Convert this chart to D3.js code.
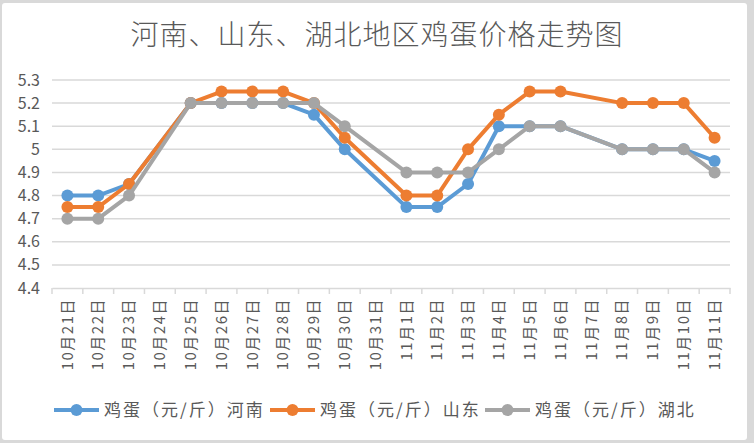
<!DOCTYPE html>
<html><head><meta charset="utf-8">
<script src="https://cdn.jsdelivr.net/npm/d3@7"></script>
<style>
html,body{margin:0;padding:0;background:#d9d9d9;}
svg{display:block;}
text{font-family:"Noto Sans CJK SC","Noto Sans",sans-serif;fill:#595959;}
</style></head>
<body>
<svg id="c" width="754" height="443"></svg>
<script>
const categories = ["10月21日","10月22日","10月23日","10月24日","10月25日","10月26日","10月27日","10月28日","10月29日","10月30日","10月31日","11月1日","11月2日","11月3日","11月4日","11月5日","11月6日","11月7日","11月8日","11月9日","11月10日","11月11日"];
const henan   = [4.8,4.8,4.85,null,5.2,5.2,5.2,5.2,5.15,5.0,null,4.75,4.75,4.85,5.1,5.1,5.1,null,5.0,5.0,5.0,4.95];
const shandong= [4.75,4.75,4.85,null,5.2,5.25,5.25,5.25,5.2,5.05,null,4.8,4.8,5.0,5.15,5.25,5.25,null,5.2,5.2,5.2,5.05];
const hubei   = [4.7,4.7,4.8,null,5.2,5.2,5.2,5.2,5.2,5.1,null,4.9,4.9,4.9,5.0,5.1,5.1,null,5.0,5.0,5.0,4.9];
const yTicks = [4.4,4.5,4.6,4.7,4.8,4.9,5.0,5.1,5.2,5.3];
const yTickLabels = ["4.4","4.5","4.6","4.7","4.8","4.9","5","5.1","5.2","5.3"];
const seriesNames = ["鸡蛋（元/斤）河南","鸡蛋（元/斤）山东","鸡蛋（元/斤）湖北"];
const title = "河南、山东、湖北地区鸡蛋价格走势图";

const colors = ["#5B9BD5","#ED7D31","#A5A5A5"];
const series = [henan, shandong, hubei];

const svg = d3.select("#c");
svg.append("rect").attr("x",2).attr("y",3).attr("width",745).attr("height",437).attr("rx",3).attr("fill","#fff");

const L=52,R=730,T=80,B=288;
const x = d3.scaleBand().domain(categories).range([L,R]);
const y = d3.scaleLinear().domain([4.4,5.3]).range([B,T]);

// title
svg.append("text").attr("x",377).attr("y",45).attr("text-anchor","middle")
  .style("font-size","28px").style("font-weight","300").style("letter-spacing","1px").text(title);

// gridlines
svg.append("g").selectAll("line").data(yTicks.slice(1)).join("line")
  .attr("x1",L).attr("x2",R).attr("y1",d=>y(d)).attr("y2",d=>y(d))
  .attr("stroke","#d9d9d9").attr("stroke-width",1.5);

// y labels
svg.append("g").selectAll("text").data(yTicks).join("text")
  .attr("x",40).attr("y",d=>y(d)).attr("dy","0.35em").attr("text-anchor","end")
  .style("font-size","16px").text((d,i)=>yTickLabels[i]);

// x axis
const xAxis = d3.axisBottom(x).tickSize(0).tickFormat("");
const gx = svg.append("g").attr("transform",`translate(0,${B})`).call(xAxis);
gx.select(".domain").attr("stroke","#d9d9d9").attr("stroke-width",1.5);
const bounds = categories.map(c=>x(c)).concat([R]);
svg.append("g").selectAll("line").data(bounds).join("line")
  .attr("x1",d=>d).attr("x2",d=>d).attr("y1",B).attr("y2",B+6)
  .attr("stroke","#d9d9d9").attr("stroke-width",1.5);

// x labels
svg.append("g").selectAll("text").data(categories).join("text")
  .attr("transform",d=>`translate(${x(d)+x.bandwidth()/2},298) rotate(-90)`)
  .attr("text-anchor","end").attr("dy","0.35em")
  .style("font-size","15px").style("letter-spacing","1.5px").text(d=>d);

// lines
const line = d3.line().x(d=>x(d.c)+x.bandwidth()/2).y(d=>y(d.v));
series.forEach((s,i)=>{
  const pts = categories.map((c,j)=>({c, v:s[j]})).filter(d=>d.v!=null);
  svg.append("path").datum(pts).attr("d",line).attr("fill","none")
    .attr("stroke",colors[i]).attr("stroke-width",4).attr("stroke-linejoin","round");
  svg.append("g").selectAll("circle").data(pts).join("circle")
    .attr("cx",d=>x(d.c)+x.bandwidth()/2).attr("cy",d=>y(d.v)).attr("r",6)
    .attr("fill",colors[i]);
});

// legend
const legX = [54,270,485];
seriesNames.forEach((n,i)=>{
  const g = svg.append("g").attr("transform",`translate(${legX[i]},410)`);
  g.append("line").attr("x1",0).attr("x2",45).attr("y1",0).attr("y2",0)
    .attr("stroke",colors[i]).attr("stroke-width",4);
  g.append("circle").attr("cx",22.5).attr("cy",0).attr("r",6).attr("fill",colors[i]);
  g.append("text").attr("x",50).attr("y",0).attr("dy","0.35em").style("font-size","17px")
    .style("letter-spacing","2px").text(n);
});
</script>
</body></html>
